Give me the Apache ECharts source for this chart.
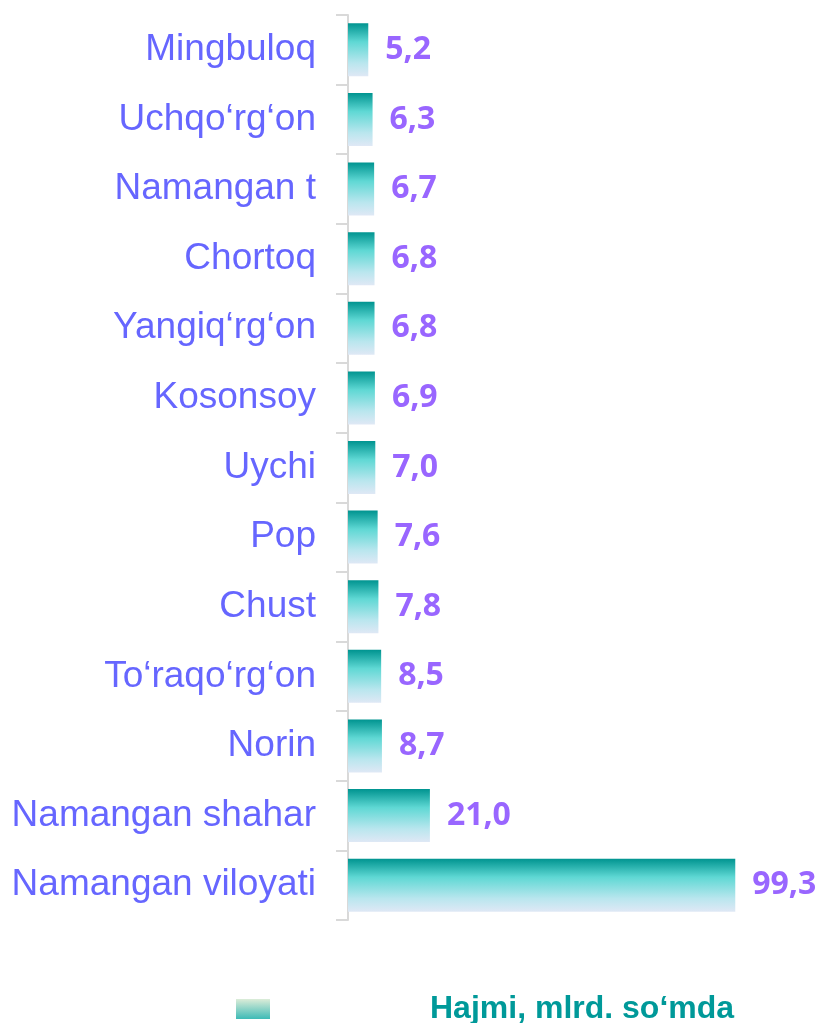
<!DOCTYPE html>
<html>
<head>
<meta charset="utf-8">
<script src="https://cdn.jsdelivr.net/npm/echarts@6/dist/echarts.min.js"></script>
<style>
  html, body { margin: 0; padding: 0; background: #fff; }
  #chart { width: 820px; height: 1023px; }
</style>
</head>
<body>
<div id="chart"></div>
<script>
const districts = [
  'Mingbuloq', 'Uchqo‘rg‘on', 'Namangan t', 'Chortoq', 'Yangiq‘rg‘on',
  'Kosonsoy', 'Uychi', 'Pop', 'Chust', 'To‘raqo‘rg‘on', 'Norin',
  'Namangan shahar', 'Namangan viloyati'
]
const volume = [5.2, 6.3, 6.7, 6.8, 6.8, 6.9, 7.0, 7.6, 7.8, 8.5, 8.7, 21.0, 99.3]
const seriesName = 'Hajmi, mlrd. so‘mda'

const chart = echarts.init(document.getElementById('chart'))

const barFill = new echarts.graphic.LinearGradient(0, 0, 0, 1, [
  { offset: 0, color: '#009490' },
  { offset: 0.35, color: '#5fd8d4' },
  { offset: 0.75, color: '#b9e6ee' },
  { offset: 1, color: '#dfe8f5' }
])
const legendFill = new echarts.graphic.LinearGradient(0, 0, 0, 1, [
  { offset: 0, color: '#dcecd8' },
  { offset: 1, color: '#3dbab6' }
])

chart.setOption({
  animation: false,
  grid: { left: 348, right: 82, top: 15, bottom: 103 },
  legend: {
    left: 236, top: 993, padding: 0,
    icon: 'rect', itemWidth: 34, itemHeight: 20,
    data: [{ name: seriesName, itemStyle: { color: legendFill } }],
    textStyle: {
      color: '#009999', fontSize: 32, fontWeight: 'bold',
      fontFamily: 'Liberation Sans, Arial, sans-serif',
      padding: [0, 0, 8, 155]
    }
  },
  xAxis: { type: 'value', min: 0, max: 100, show: false },
  yAxis: {
    type: 'category', inverse: true,
    data: districts,
    axisLine: { show: true, lineStyle: { color: '#d9d9d9', width: 2 } },
    axisTick: {
      show: true, alignWithLabel: false, length: 12,
      lineStyle: { color: '#d9d9d9', width: 2 }
    },
    axisLabel: {
      color: '#6666ff', fontSize: 37, margin: 32,
      fontFamily: 'Liberation Sans, Arial, sans-serif'
    },
    splitLine: { show: false }
  },
  series: [{
    name: seriesName, type: 'bar',
    data: volume,
    barWidth: 53,
    itemStyle: { color: barFill },
    label: {
      show: true, position: 'right', distance: 17,
      color: '#9966ff', fontSize: 32, fontWeight: 'bold',
      fontFamily: 'Open Sans, sans-serif',
      formatter: (p) => p.value.toFixed(1).replace('.', ',')
    }
  }]
})
</script>
</body>
</html>
